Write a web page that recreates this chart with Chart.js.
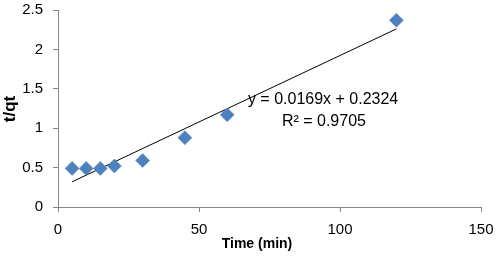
<!DOCTYPE html>
<html>
<head>
<meta charset="UTF-8">
<title>t/qt vs Time</title>
<style>
  html, body { margin: 0; padding: 0; background: #fff; }
  #wrap { width: 500px; height: 257px; }
</style>
</head>
<body>
<div id="wrap"><canvas id="chart" width="500" height="257"></canvas></div>
<script src="https://cdn.jsdelivr.net/npm/chart.js"></script>
<script>
// values
const timeMin = [5, 10, 15, 20, 30, 45, 60, 120];
const tqt = [0.49, 0.49, 0.49, 0.52, 0.59, 0.88, 1.17, 2.37];
// linear trendline end points (as drawn)
const trendX = [5, 120];
const trendY = [0.32, 2.26];
const eqText = 'y = 0.0169x + 0.2324';
const r2Text = 'R² = 0.9705';
const xTitle = 'Time (min)';
const yTitle = 't/qt';

const axisGray = '#868686';
const font = 'Liberation Sans';

// equation box and axis titles
const labels = {
  id: 'labels',
  afterDraw(chart) {
    const ctx = chart.ctx;
    const xs = chart.scales.x, ys = chart.scales.y;
    ctx.save();
    ctx.fillStyle = '#000';
    ctx.textAlign = 'center';
    ctx.textBaseline = 'middle';
    ctx.font = '16px "' + font + '"';
    ctx.fillText(eqText, xs.getPixelForValue(94), ys.getPixelForValue(1.36));
    ctx.fillText(r2Text, xs.getPixelForValue(94.3), ys.getPixelForValue(1.09));

    ctx.font = 'bold 14px "' + font + '"';
    ctx.fillText(xTitle, 257, 244);

    ctx.translate(10, 109);
    ctx.rotate(-Math.PI / 2);
    ctx.font = 'bold 17px "' + font + '"';
    ctx.fillText(yTitle, 0, 0);
    ctx.restore();
  }
};

new Chart(document.getElementById('chart'), {
  type: 'scatter',
  data: {
    datasets: [
      {
        label: 't/qt',
        data: timeMin.map((t, i) => ({ x: t, y: tqt[i] })),
        pointStyle: 'rectRot',
        pointRadius: 7,
        backgroundColor: '#4F81BD',
        borderColor: '#4A7EBB',
        borderWidth: 0.5,
        order: 1
      },
      {
        label: 'Linear',
        type: 'line',
        data: trendX.map((t, i) => ({ x: t, y: trendY[i] })),
        borderColor: '#000',
        borderWidth: 1,
        pointRadius: 0,
        fill: false,
        order: 2
      }
    ]
  },
  options: {
    responsive: false,
    animation: false,
    layout: { padding: { top: 10, right: 19, bottom: 0, left: 0 } },
    plugins: { legend: { display: false }, tooltip: { enabled: false } },
    scales: {
      x: {
        type: 'linear',
        min: 0, max: 150,
        ticks: { stepSize: 50, color: '#000', font: { family: font, size: 15 }, padding: 9, maxRotation: 0 },
        grid: { drawOnChartArea: false, tickLength: 5, color: axisGray },
        border: { color: axisGray },
        afterFit(s) { s.height = 50; s.paddingLeft = 0; s.paddingRight = 0; }
      },
      y: {
        min: 0, max: 2.5,
        ticks: {
          stepSize: 0.5, color: '#000', font: { family: font, size: 15 }, padding: 10,
          callback: v => String(v)
        },
        grid: { drawOnChartArea: false, tickLength: 5, color: axisGray },
        border: { color: axisGray },
        afterFit(s) { s.width = 58; s.paddingTop = 0; s.paddingBottom = 0; }
      }
    }
  },
  plugins: [labels]
});
</script>
</body>
</html>
